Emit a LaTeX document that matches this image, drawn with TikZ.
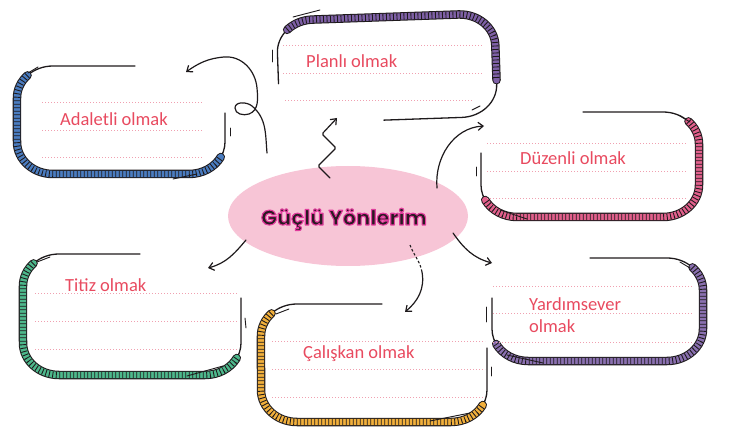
\documentclass[tikz,border=0pt]{standalone}
\usepackage{fontspec}
\setmainfont{Carlito}
\newfontfamily\titlefont{Poppins}
\usetikzlibrary{shapes.geometric,arrows.meta}
\definecolor{bandpurple}{HTML}{7E60A6}
\definecolor{bandblue}{HTML}{4A7CC0}
\definecolor{bandpink}{HTML}{E2608C}
\definecolor{bandgreen}{HTML}{4DB88C}
\definecolor{bandorange}{HTML}{F2B03C}
\definecolor{bandlilac}{HTML}{8A70B0}
\definecolor{lblred}{HTML}{E84A5F}
\definecolor{dotpink}{HTML}{F0A0B0}
\definecolor{ellpink}{HTML}{F7C5D6}
\definecolor{titleink}{HTML}{2A1A22}
\definecolor{inkline}{HTML}{1E1A1C}
\tikzset{
  bandout/.style={line width=8.5pt, draw=inkline, line cap=round},
  bandin/.style={line width=6.4pt, line cap=round},
  bandtick/.style={line width=6.4pt, draw=inkline, dash pattern=on 0.9pt off 2.6pt},
  thinline/.style={line width=1.3pt, draw=inkline, line cap=round},
  accent/.style={line width=0.9pt, draw=inkline, line cap=round},
  dots/.style={draw=dotpink, line width=0.8pt, dash pattern=on 0.7pt off 2.3pt},
  lbl/.style={text=lblred, font=\fontsize{18.5}{21}\selectfont, anchor=base west, inner sep=0pt},
  titlesty/.style={font=\titlefont\bfseries\fontsize{21}{24}\selectfont, anchor=base, inner sep=0pt},
  conn/.style={line width=1.2pt, draw=inkline, line cap=round, -{Straight Barb[length=5pt,width=8pt]}},
  crn/.style={x radius=36, y radius=32},
}
\newcommand\sketchband[2]{%
  \draw[bandout] #2;
  \draw[bandin,draw=#1] #2;
  \draw[bandtick] #2;}
% band on left and bottom: #1 L, #2 T, #3 R, #4 B, #5 colour, #6 x where top line ends, #7 y where right line starts
\newcommand\boxLB[7]{%
  \draw[thinline] ({#1+10.54},{#2+9.37}) arc[start angle=225,end angle=270,crn] -- ({#6},{#2});
  \draw[thinline] ({#3},{#7}) -- ({#3},{#4-32}) arc[start angle=0,end angle=35,crn];
  \sketchband{#5}{({#1+10.54},{#2+9.37}) arc[start angle=225,end angle=180,crn] -- ({#1},{#4-32}) arc[start angle=180,end angle=90,crn] -- ({#3-36},{#4}) arc[start angle=90,end angle=28,crn]}}
% band on right and bottom: #6 x where top line starts, #7 y where left line starts
\newcommand\boxRB[7]{%
  \draw[thinline] ({#6},{#2}) -- ({#3-36},{#2}) arc[start angle=270,end angle=315,crn];
  \draw[thinline] ({#1},{#7}) -- ({#1},{#4-32}) arc[start angle=180,end angle=145,crn];
  \sketchband{#5}{({#3-10.54},{#2+9.37}) arc[start angle=315,end angle=360,crn] -- ({#3},{#4-32}) arc[start angle=0,end angle=90,crn] -- ({#1+36},{#4}) arc[start angle=90,end angle=152,crn]}}
% band on top and right: #6 x where bottom line starts, #7 y where left line ends
\newcommand\boxTR[7]{%
  \draw[thinline] ({#1+10.54},{#2+9.37}) arc[start angle=225,end angle=180,crn] -- ({#1},{#7});
  \draw[thinline] ({#6},{#4}) -- ({#3-36},{#4}) arc[start angle=90,end angle=0,crn] -- ({#3},{#4-40});
  \sketchband{#5}{({#1+10.54},{#2+9.37}) arc[start angle=225,end angle=270,crn] -- ({#3-36},{#2}) arc[start angle=270,end angle=360,crn] -- ({#3},{#4-36})}}
% title: dark fill with a pink stroked halo (one text)
\newcommand\glowtext[1]{%
  \special{pdf:literal 2 Tr 1.1 w 1 J 1 j 0.878 0.235 0.612 RG}#1\special{pdf:literal 0 Tr}}
\begin{document}
\begin{tikzpicture}[x=1pt,y=-1pt]
\useasboundingbox (0,0) rectangle (732,433);

% ---------- centre ----------
\node[ellipse, fill=ellpink, minimum width=240pt, minimum height=100pt, inner sep=0pt] (center) at (348,216) {};
\node[titlesty, text=titleink] (title) at (344,225) {\glowtext{Güçlü Yönlerim}};

% ---------- Planli box ----------
\begin{scope}[rotate around={2:(387,67)}]
\boxTR{278}{17}{496}{120}{bandpurple}{382}{80}
\end{scope}
\draw[accent] (293,17) -- (320,10);
\draw[accent] (272,50) -- (272,62);
\draw[accent] (472,110) -- (480,106);
\foreach \yy in {45,73} \draw[dots] (283,\yy) -- (483,\yy);
\draw[dots] (285,100) -- (473,100);
\node[lbl] (tplan) at (306,68) {Planlı olmak};

% ---------- Adaletli box ----------
\boxLB{17}{66}{225}{174}{bandblue}{135}{113}
\draw[accent] (173,179) -- (197,174);
\draw[accent] (28,73) -- (38,67);
\draw[accent] (230,128) -- (230,136);
\foreach \yy in {102,130,157} \draw[dots] (42,\yy) -- (203,\yy);
\node[lbl] (tadal) at (60,126) {Adaletli olmak};

% ---------- Duzenli box ----------
\boxRB{481}{112}{699}{217}{bandpink}{583}{153}
\draw[accent] (500,210) -- (527,219);
\draw[accent] (680,116) -- (690,122);
\draw[accent] (476,167) -- (476,176);
\foreach \yy in {143,171,198} \draw[dots] (487,\yy) -- (687,\yy);
\node[lbl] (tduz) at (520,165) {Düzenli olmak};

% ---------- Titiz box ----------
\boxLB{23}{254}{241}{375}{bandgreen}{140}{298}
\draw[accent] (187,376) -- (223,366);
\draw[accent] (245,318) -- (246,328);
\draw[accent] (37,262) -- (50,257);
\foreach \yy in {293,321,349} \draw[dots] (35,\yy) -- (237,\yy);
\node[lbl] (ttitiz) at (65,291) {Titiz olmak};

% ---------- Caliskan box ----------
\boxLB{261}{304}{487}{422}{bandorange}{382}{348}
\draw[accent] (430,421) -- (470,413);
\draw[accent] (491,367) -- (491,376);
\draw[accent] (276,314) -- (289,309);
\foreach \yy in {341,369,397} \draw[dots] (272,\yy) -- (485,\yy);
\node[lbl] (tcal) at (303,358) {Çalışkan olmak};

% ---------- Yardimsever box ----------
\boxRB{492}{258}{703}{361}{bandlilac}{590}{298}
\draw[accent] (507,355) -- (543,363);
\draw[accent] (486,307) -- (486,322);
\draw[accent] (680,262) -- (690,268);
\foreach \yy in {286,313,342} \draw[dots] (493,\yy) -- (692,\yy);
\node[lbl] (tyard1) at (529,310) {Yardımsever};
\node[lbl] (tyard2) at (529,333) {olmak};

% ---------- connectors ----------
\coordinate (zs) at (330,178);
\coordinate (ze) at (337,118);
\draw[conn, rounded corners=1.5pt] (zs) -- (318,166) -- (336,148) -- (322,134) -- (ze);

\coordinate (ls) at (267,153);
\coordinate (le) at (186,72);
\draw[conn] (ls) to[out=95,in=-40] (252,106) to[out=140,in=90] (235,108)
  to[out=-90,in=-160] (249,114) to[out=20,in=-85] (257,88)
  to[out=95,in=5] (224,57) to[out=185,in=35] (le);

\coordinate (ds) at (437,188);
\coordinate (de) at (484,126);
\draw[conn] (ds) to[out=95,in=183] (de);

\coordinate (ys) at (453,233);
\coordinate (ye) at (492,263);
\draw[conn] (ys) to[out=-55,in=165] (ye);

\coordinate (cs) at (410,245);
\coordinate (cm) at (422,272);
\coordinate (ce) at (405,312);
\draw[line width=1.1pt, draw=inkline, dash pattern=on 2.5pt off 2pt] (cs) to[out=-70,in=100] (cm);
\draw[conn] (cm) to[out=-80,in=40] (ce);

\coordinate (ts) at (246,240);
\coordinate (te) at (208,268);
\draw[conn] (ts) to[out=-130,in=15] (te);
\end{tikzpicture}
\end{document}
